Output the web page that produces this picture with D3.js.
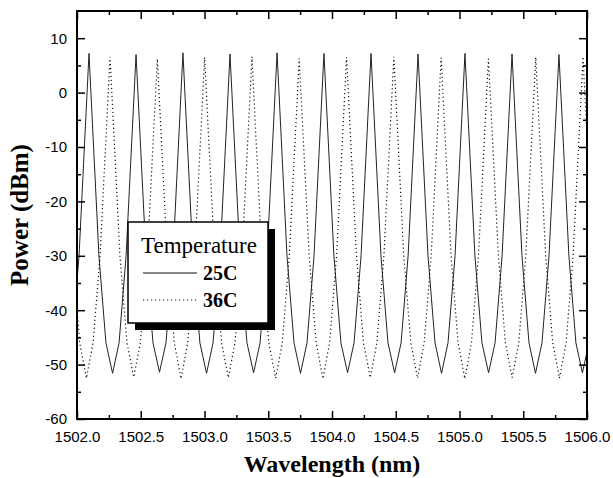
<!DOCTYPE html>
<html>
<head>
<meta charset="utf-8">
<script src="https://cdn.jsdelivr.net/npm/d3@7"></script>
<style>
  body { margin: 0; background: #fff; }
  .tick text { font-family: "Liberation Sans", Arial, sans-serif; font-size: 15px; fill: #000; }
  .tick line { stroke: #000; stroke-width: 1.5; }
</style>
</head>
<body>
<svg width="613" height="478"></svg>
<script>
// tick values
const xMajor = [1502.0, 1502.5, 1503.0, 1503.5, 1504.0, 1504.5, 1505.0, 1505.5, 1506.0];
const xMinor = [1502.25, 1502.75, 1503.25, 1503.75, 1504.25, 1504.75, 1505.25, 1505.75];
const yMajor = [-60, -50, -40, -30, -20, -10, 0, 10];
const yMinor = [-55, -45, -35, -25, -15, -5, 5];

const seriesNames = ['25C', '36C'];

// 25C spectrum (nm, dBm)
const wl25 = [
  1501.910, 1501.961, 1502.016, 1502.094, 1502.172, 1502.227,
  1502.279, 1502.330, 1502.385, 1502.463, 1502.541, 1502.596,
  1502.647, 1502.698, 1502.753, 1502.831, 1502.909, 1502.964,
  1503.016, 1503.067, 1503.122, 1503.200, 1503.278, 1503.333,
  1503.385, 1503.436, 1503.491, 1503.569, 1503.647, 1503.702,
  1503.753, 1503.804, 1503.859, 1503.937, 1504.015, 1504.070,
  1504.122, 1504.173, 1504.228, 1504.306, 1504.384, 1504.439,
  1504.491, 1504.542, 1504.597, 1504.675, 1504.753, 1504.808,
  1504.859, 1504.910, 1504.965, 1505.043, 1505.121, 1505.176,
  1505.228, 1505.279, 1505.334, 1505.412, 1505.490, 1505.545,
  1505.596, 1505.647, 1505.702, 1505.780, 1505.858, 1505.913,
  1505.964, 1506.015
];
const db25 = [
  -51.5, -46, -30, 7.2, -30, -46,
  -51.6, -46, -30, 7.0, -30, -46,
  -51.4, -46, -30, 7.3, -30, -46,
  -51.6, -46, -30, 7.1, -30, -46,
  -51.5, -46, -30, 7.3, -30, -46,
  -51.6, -46, -30, 7.2, -30, -46,
  -51.5, -46, -30, 7.2, -30, -46,
  -51.5, -46, -30, 7.1, -30, -46,
  -51.6, -46, -30, 7.2, -30, -46,
  -51.5, -46, -30, 7.1, -30, -46,
  -51.6, -46, -30, 7.0, -30, -46,
  -51.5, -46
];

// 36C spectrum (nm, dBm)
const wl36 = [
  1501.888, 1501.966, 1502.021,
  1502.074, 1502.126, 1502.181, 1502.259, 1502.337, 1502.392,
  1502.445, 1502.497, 1502.552, 1502.630, 1502.708, 1502.763,
  1502.816, 1502.868, 1502.923, 1503.001, 1503.079, 1503.134,
  1503.187, 1503.239, 1503.294, 1503.372, 1503.450, 1503.505,
  1503.558, 1503.610, 1503.665, 1503.743, 1503.821, 1503.876,
  1503.929, 1503.981, 1504.036, 1504.114, 1504.192, 1504.247,
  1504.300, 1504.352, 1504.407, 1504.485, 1504.563, 1504.618,
  1504.671, 1504.723, 1504.778, 1504.856, 1504.934, 1504.989,
  1505.042, 1505.094, 1505.149, 1505.227, 1505.305, 1505.360,
  1505.413, 1505.465, 1505.520, 1505.598, 1505.676, 1505.731,
  1505.784, 1505.836, 1505.891, 1505.969, 1506.047
];
const db36 = [
  6.5, -30, -46,
  -52.5, -46, -30, 6.6, -30, -46,
  -52.3, -46, -30, 6.2, -30, -46,
  -52.6, -46, -30, 6.5, -30, -46,
  -52.4, -46, -30, 6.6, -30, -46,
  -52.5, -46, -30, 6.3, -30, -46,
  -52.6, -46, -30, 6.5, -30, -46,
  -52.4, -46, -30, 6.6, -30, -46,
  -52.5, -46, -30, 6.4, -30, -46,
  -52.6, -46, -30, 6.2, -30, -46,
  -52.4, -46, -30, 6.5, -30, -46,
  -52.5, -46, -30, 6.6, -30
];

const svg = d3.select('svg'),
  marginLeft = 77,
  marginTop = 11,
  width = 510,
  height = 408;

const xScale = d3.scaleLinear().domain([1502, 1506]).range([0, width]),
  yScale = d3.scaleLinear().domain([-60, 15]).range([height, 0]);

const g = svg.append('g').attr('transform', `translate(${marginLeft},${marginTop})`);

g.append('clipPath')
  .attr('id', 'plot-clip')
  .append('rect')
  .attr('width', width)
  .attr('height', height);

// curves
const line = d3
  .line()
  .x((d) => xScale(d[0]))
  .y((d) => yScale(d[1]));

g.append('path')
  .datum(d3.zip(wl25, db25))
  .attr('clip-path', 'url(#plot-clip)')
  .attr('fill', 'none')
  .attr('stroke', '#222')
  .attr('stroke-width', 1)
  .attr('d', line);

g.append('path')
  .datum(d3.zip(wl36, db36))
  .attr('clip-path', 'url(#plot-clip)')
  .attr('fill', 'none')
  .attr('stroke', '#111')
  .attr('stroke-width', 1.2)
  .attr('stroke-dasharray', '1.2,2.8')
  .attr('d', line);

// axes, ticks pointing inward
g.append('g')
  .attr('transform', `translate(0,${height})`)
  .call(d3.axisBottom(xScale).tickValues(xMajor).tickFormat(d3.format('.1f'))
    .tickSizeInner(-8).tickSizeOuter(0).tickPadding(12));
g.append('g')
  .attr('transform', `translate(0,${height})`)
  .call(d3.axisBottom(xScale).tickValues(xMinor).tickFormat('').tickSize(-4));
g.append('g')
  .call(d3.axisTop(xScale).tickValues(xMajor).tickFormat('').tickSize(-8));
g.append('g')
  .call(d3.axisTop(xScale).tickValues(xMinor).tickFormat('').tickSize(-4));

g.append('g')
  .call(d3.axisLeft(yScale).tickValues(yMajor).tickFormat((d) => String(d))
    .tickSizeInner(-8).tickSizeOuter(0).tickPadding(10));
g.append('g')
  .call(d3.axisLeft(yScale).tickValues(yMinor).tickFormat('').tickSize(-4));
g.append('g')
  .attr('transform', `translate(${width},0)`)
  .call(d3.axisRight(yScale).tickValues(yMajor).tickFormat('').tickSize(-8));
g.append('g')
  .attr('transform', `translate(${width},0)`)
  .call(d3.axisRight(yScale).tickValues(yMinor).tickFormat('').tickSize(-4));

g.selectAll('.domain').remove();

g.append('rect')
  .attr('width', width)
  .attr('height', height)
  .attr('fill', 'none')
  .attr('stroke', '#000')
  .attr('stroke-width', 2);

// axis titles
svg
  .append('text')
  .attr('x', marginLeft + width / 2)
  .attr('y', 472)
  .attr('text-anchor', 'middle')
  .attr('font-family', '"Liberation Serif", "Times New Roman", serif')
  .attr('font-weight', 'bold')
  .attr('font-size', '24px')
  .text('Wavelength (nm)');

svg
  .append('text')
  .attr('transform', `translate(28,${marginTop + height / 2}) rotate(-90)`)
  .attr('text-anchor', 'middle')
  .attr('font-family', '"Liberation Serif", "Times New Roman", serif')
  .attr('font-weight', 'bold')
  .attr('font-size', '25px')
  .text('Power (dBm)');

// legend with drop shadow
const legend = svg.append('g').attr('transform', 'translate(128,222)');
legend.append('rect')
  .attr('x', 7).attr('y', 7)
  .attr('width', 140).attr('height', 101)
  .attr('fill', '#000');
legend.append('rect')
  .attr('width', 140).attr('height', 101)
  .attr('fill', '#fff')
  .attr('stroke', '#000')
  .attr('stroke-width', 1.5);
legend.append('text')
  .attr('x', 13).attr('y', 31)
  .attr('font-family', '"Liberation Serif", "Times New Roman", serif')
  .attr('font-size', '23px')
  .text('Temperature');

seriesNames.forEach((name, i) => {
  const yy = 51 + i * 27;
  legend.append('line')
    .attr('x1', 15).attr('x2', 69)
    .attr('y1', yy).attr('y2', yy)
    .attr('stroke', '#111')
    .attr('stroke-width', 1.2)
    .attr('stroke-dasharray', i === 1 ? '1.2,2.8' : null);
  legend.append('text')
    .attr('x', 75).attr('y', yy + 7)
    .attr('font-family', '"Liberation Serif", "Times New Roman", serif')
    .attr('font-weight', 'bold')
    .attr('font-size', '20px')
    .text(name);
});
</script>
</body>
</html>
